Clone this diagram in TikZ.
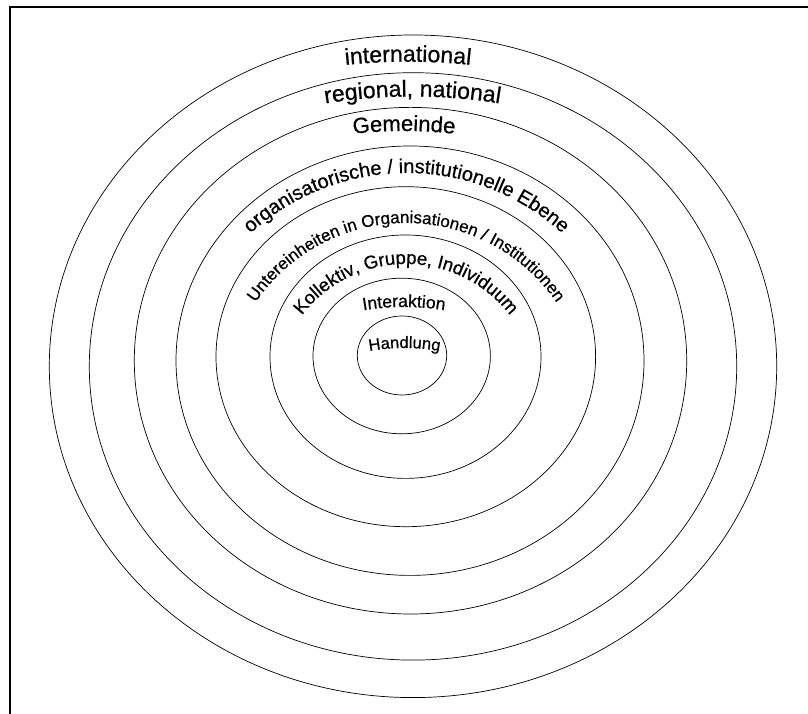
\documentclass[tikz,border=0pt]{standalone}
\usepackage{fontspec}
\setmainfont{Liberation Sans}
\newfontfamily\ringfont{Liberation Sans}[FakeBold=0.6]
\usetikzlibrary{decorations.text}

\begin{document}
\begin{tikzpicture}[x=1pt, y=1pt,
  ring/.style={line width=0.7pt},
  arcword/.style n args={2}{decorate,
    decoration={text along path, text align=center,
      text={|\ringfont\fontsize{#1}{#1}\selectfont|#2}}}]
  \useasboundingbox (0,0) rectangle (808,714);
  % frame
  \draw[line width=2pt] (9.5,0) -- (9.5,707.3) -- (808,707.3);

  % rings, inner to outer
  \foreach \cx/\cy/\rx/\ry in {402/358.5/44.7/39.5, 401.7/358/88.7/77.8,
      405.5/357.3/135.5/121.7, 405.8/357.3/189.8/170, 410/353.3/234/214.7,
      410.5/353.3/276.2/253.3, 413/347.6/323.7/293.7, 413/347.7/363.7/331.3}
    \draw[ring] (\cx,\cy) ellipse[x radius=\rx, y radius=\ry];

  % labels along arcs
  \path[arcword={23}{international}] (408,52.3) ++(110:600) arc[start angle=110, end angle=70, radius=600];
  \path[arcword={23}{regional, national}] (412.5,67.5) ++(110:550) arc[start angle=110, end angle=70, radius=550];
  \path[arcword={22}{Gemeinde}] (404,133) ++(110:450) arc[start angle=110, end angle=70, radius=450];
  \path[arcword={20}{organisatorische / institutionelle Ebene}] (406.5,310) ++(150:231) arc[start angle=150, end angle=30, radius=231];
  \path[arcword={17}{Untereinheiten in Organisationen / Institutionen}] (406,309) ++(170:182) arc[start angle=170, end angle=10, radius=182];
  \path[arcword={18.5}{Kollektiv, Gruppe, Individuum}] (406,319) ++(170:131) arc[start angle=170, end angle=10, radius=131];
  \path[arcword={17.5}{Interaktion}] (404,157) ++(120:250) arc[start angle=120, end angle=60, radius=250];
  \path[arcword={16.5}{Handlung}] (404.5,166) ++(120:200) arc[start angle=120, end angle=60, radius=200];
\end{tikzpicture}
\end{document}
